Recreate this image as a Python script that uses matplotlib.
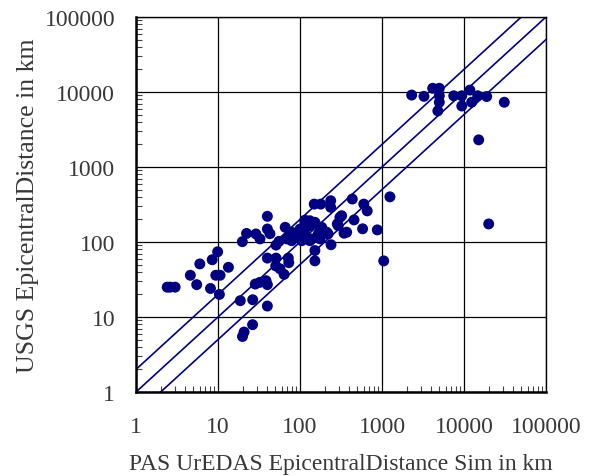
import matplotlib
matplotlib.use("Agg")
import matplotlib.pyplot as plt
from matplotlib.ticker import FixedLocator, FixedFormatter, LogLocator, NullFormatter

# PAS UrEDAS epicentral distance (km)
x_pas = [2.4, 2.6, 3.0, 4.6, 5.5, 6.0, 8.1, 8.5, 9.9, 9.4, 10.6, 10.4, 13.4, 18.7,
         19.8, 22.3, 29, 32.5, 40, 40, 43, 26.5, 28.5, 32.5, 38.5, 40, 40, 26.4,
         20.8, 19.9, 40, 51, 51, 55.5, 50.6, 57, 64, 72, 73, 69, 79,
         100, 115, 132, 152, 105, 132, 152, 152, 149, 179, 237, 237, 434, 600,
         660, 1250, 322, 456, 285, 344, 580, 877, 239, 1050, 115, 139, 176, 192,
         220, 176, 75, 132, 184, 87, 115, 167, 212, 139, 79, 66, 307, 293, 371,
         2300, 3250, 4150, 5000, 5000, 5000, 4800, 7500, 9400, 9400, 11800, 12400,
         14700, 18900, 31000, 15100, 20000]
# USGS epicentral distance (km)
y_usgs = [25, 25, 25, 36, 27, 51, 24, 58, 74, 36, 36, 20, 46, 16.5,
          101, 130, 128, 110, 220, 149, 129, 17, 27.5, 29, 30.5, 27, 14, 7.9,
          6.3, 5.5, 61, 61, 91, 102, 48, 44, 37, 61, 53, 110, 135,
          149, 183, 165, 183, 104, 104, 77, 56, 320, 320, 355, 290, 374, 320,
          260, 400, 224, 197, 174, 131, 150, 145, 92, 56, 195, 183, 157, 135,
          128, 110, 128, 192, 157, 128, 128, 128, 135, 110, 104, 157, 213, 165, 135,
          9100, 8750, 11200, 11200, 8900, 7300, 5600, 8900, 8900, 6500, 10600, 7300,
          8900, 8700, 7300, 2300, 174]

# reference lines: y = 2x, y = x, y = x/2
line_x = [1, 100000]
line_factors = [2.0, 1.0, 0.5]

tick_values = [1, 10, 100, 1000, 10000, 100000]
tick_labels = ["1", "10", "100", "1000", "10000", "100000"]

navy = "#000080"
text_color = "#383838"
plt.rcParams["font.family"] = ["Liberation Serif", "DejaVu Serif"]

fig = plt.figure(figsize=(5.9, 4.77), dpi=100)
ax = fig.add_axes([0.2305, 0.1761, 0.6949, 0.7862])

for f in line_factors:
    ax.plot(line_x, [v * f for v in line_x], color=navy, lw=1.2, zorder=2)

ax.scatter(x_pas, y_usgs, s=62, color=navy, edgecolors="none", zorder=3)

ax.set_xscale("log")
ax.set_yscale("log")
ax.set_xlim(1, 100000)
ax.set_ylim(1, 100000)

for axis in (ax.xaxis, ax.yaxis):
    axis.set_major_locator(FixedLocator(tick_values))
    axis.set_major_formatter(FixedFormatter(tick_labels))
    axis.set_minor_locator(LogLocator(base=10, subs=range(2, 10), numticks=20))
    axis.set_minor_formatter(NullFormatter())

ax.grid(True, which="major", color="black", lw=0.9)
ax.tick_params(which="major", length=0, labelsize=17, colors=text_color)
ax.tick_params(axis="x", which="major", pad=17)
ax.tick_params(axis="y", which="major", pad=15)
ax.tick_params(which="minor", direction="in", length=4, width=0.8, color="#444444")
for s in ax.spines.values():
    s.set_color("black")
    s.set_linewidth(1.0)
ax.spines["left"].set_linewidth(1.8)
ax.spines["bottom"].set_linewidth(1.8)

ax.set_xlabel("PAS UrEDAS EpicentralDistance Sim in km", fontsize=17,
              color=text_color, labelpad=12)
ax.set_ylabel("USGS EpicentralDistance in km", fontsize=18.5,
              color=text_color, labelpad=4)

fig.savefig("out.png", dpi=100)
